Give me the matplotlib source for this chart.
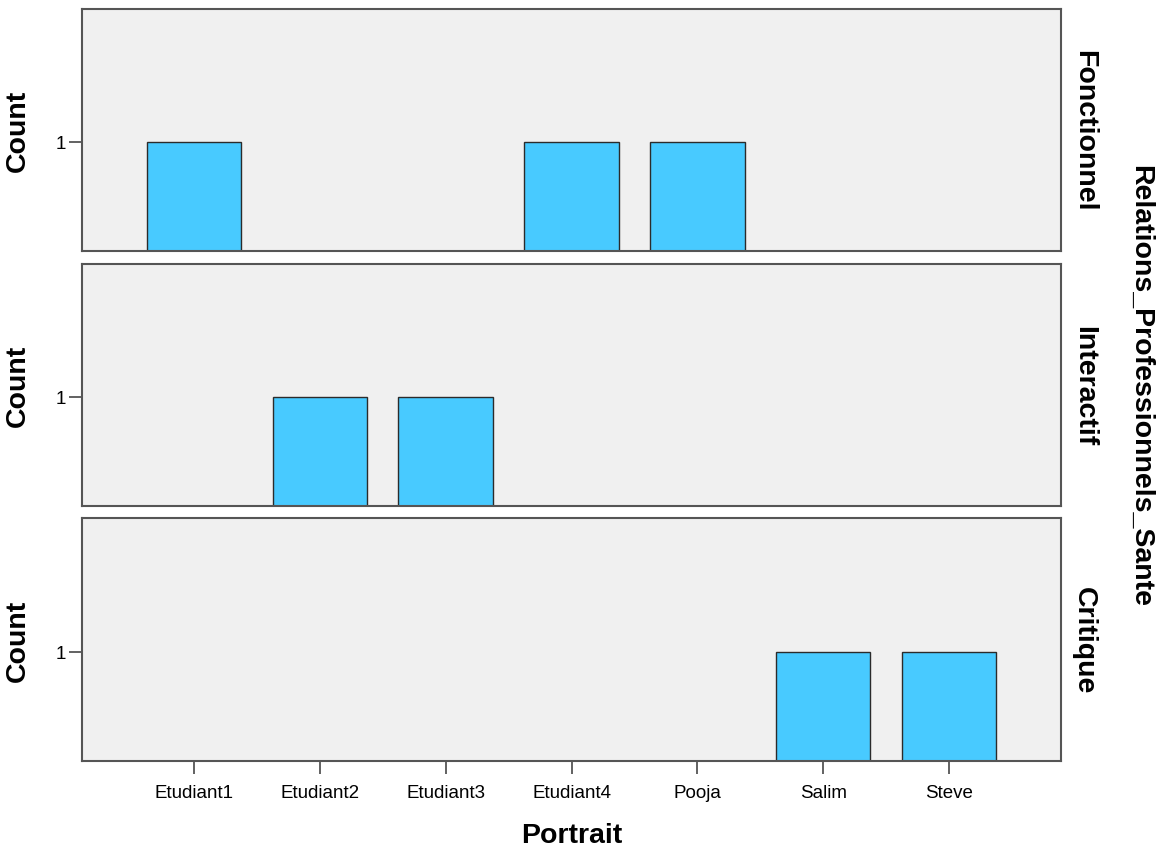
import numpy as np
import matplotlib
matplotlib.use("Agg")
import matplotlib.pyplot as plt

plt.rcParams['font.family'] = ['Liberation Sans', 'DejaVu Sans']

portraits = ["Etudiant1", "Etudiant2", "Etudiant3", "Etudiant4", "Pooja", "Salim", "Steve"]
groups = ["Fonctionnel", "Interactif", "Critique"]
counts_fonctionnel = [1, 0, 0, 1, 1, 0, 0]
counts_interactif = [0, 1, 1, 0, 0, 0, 0]
counts_critique = [0, 0, 0, 0, 0, 1, 1]
counts = [counts_fonctionnel, counts_interactif, counts_critique]

W, H = 1167, 853
fig = plt.figure(figsize=(W / 100, H / 100), dpi=100)

# panel boxes in pixels (top, bottom)
panels = [(10, 252), (265, 507), (519, 762)]
left, right = 82, 1061

bar_color = "#48CAFF"
face = "#F0F0F0"
spine = "#555555"

x = np.arange(len(portraits))
for i, (top, bot) in enumerate(panels):
    ax = fig.add_axes([left / W, 1 - bot / H, (right - left) / W, (bot - top) / H])
    ax.set_facecolor(face)
    vals = np.array(counts[i])
    mask = vals > 0
    ax.bar(x[mask], vals[mask], width=0.75, color=bar_color,
           edgecolor="#2b2b2b", linewidth=1.0)
    ax.set_xlim(-0.89, 6.89)
    ax.set_ylim(0, 2.22)
    ax.set_yticks([1])
    ax.set_yticklabels(["1"], fontsize=13.5)
    for s in ax.spines.values():
        s.set_color(spine)
        s.set_linewidth(1.5)
    ax.tick_params(axis="y", length=9.5, width=1.3, color=spine, pad=2)
    if i < 2:
        ax.set_xticks([])
    else:
        ax.set_xticks(x)
        ax.set_xticklabels(portraits, fontsize=13.5)
        ax.tick_params(axis="x", length=9.5, width=1.3, color=spine, pad=7)
        ax.set_xlabel("Portrait", fontsize=20.5, fontweight="bold", labelpad=15)
    ax.set_ylabel("Count", fontsize=20.5, fontweight="bold")
    ax.yaxis.set_label_coords(-51 / (right - left), 0.5)
    ax.text(1084 / W, 1 - ((top + bot) / 2) / H, groups[i], transform=fig.transFigure,
            rotation=-90, ha="center", va="center", fontsize=20.5, fontweight="bold")

fig.text(1140 / W, 1 - 386 / H, "Relations_Professionnels_Sante", rotation=-90,
         ha="center", va="center", fontsize=20.5, fontweight="bold")

fig.savefig("out.png", dpi=100, facecolor="white")
